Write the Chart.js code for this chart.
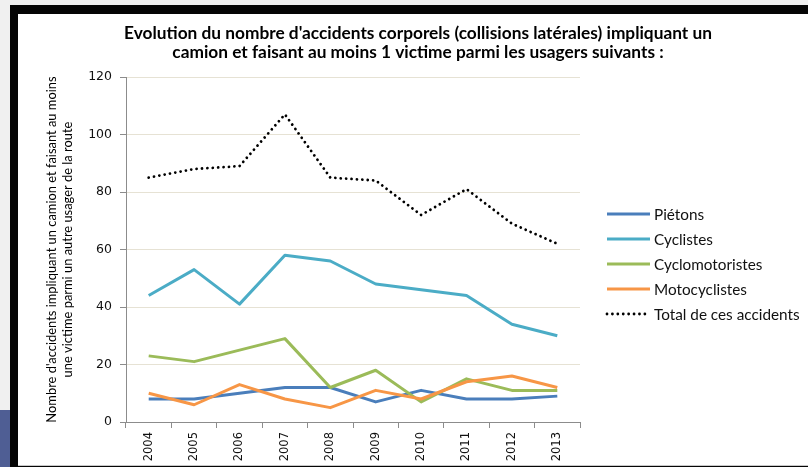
<!DOCTYPE html>
<html>
<head>
<meta charset="utf-8">
<script src="https://cdn.jsdelivr.net/npm/chart.js@4.4.1/dist/chart.umd.min.js"></script>
<style>
  html, body { margin: 0; padding: 0; }
  body { width: 808px; height: 467px; background: #f0f0f0; position: relative; overflow: hidden; }
  .blk { position: absolute; left: 10px; top: 5px; width: 798px; height: 462px; background: #050505; }
  .wht { position: absolute; left: 18px; top: 14px; width: 790px; height: 451px; background: #ffffff; }
  .ln { position: absolute; left: 18px; top: 465px; width: 790px; height: 1px; background: #c8c8c8; }
  .blue { position: absolute; left: 0; top: 410px; width: 10px; height: 57px; background: #4f5e94; }
  canvas { position: absolute; left: 0; top: 0; }
</style>
</head>
<body>
<div class="blk"></div>
<div class="wht"></div>
<div class="ln"></div>
<div class="blue"></div>
<canvas id="c" width="808" height="467"></canvas>
<script>
// ---- data ----
const years = ['2004','2005','2006','2007','2008','2009','2010','2011','2012','2013'];
const pietons = [8, 8, 10, 12, 12, 7, 11, 8, 8, 9];
const cyclistes = [44, 53, 41, 58, 56, 48, 46, 44, 34, 30];
const cyclomotoristes = [23, 21, 25, 29, 12, 18, 7, 15, 11, 11];
const motocyclistes = [10, 6, 13, 8, 5, 11, 8, 14, 16, 12];
const total = [85, 88, 89, 107, 85, 84, 72, 81, 69, 62];
const seriesNames = ['Piétons', 'Cyclistes', 'Cyclomotoristes', 'Motocyclistes', 'Total de ces accidents'];
const titleLines = ["Evolution du nombre d'accidents corporels (collisions latérales) impliquant un",
                    "camion et faisant au moins 1 victime parmi les usagers suivants :"];
const yTitleLines = ["Nombre d'accidents impliquant un camion et faisant au moins",
                     "une victime parmi un autre usager de la route"];

const colors = ['#4a7ebb', '#4bacc6', '#9bbb59', '#f79646', '#000000'];
const values = [pietons, cyclistes, cyclomotoristes, motocyclistes, total];

const datasets = values.map((v, i) => ({
  label: seriesNames[i],
  data: v,
  borderColor: colors[i],
  backgroundColor: colors[i],
  borderWidth: i === 4 ? 2.8 : 3,
  borderDash: i === 4 ? [0.01, 5.4] : [],
  borderCapStyle: i === 4 ? 'round' : 'butt',
  borderJoinStyle: 'round',
  pointRadius: 0,
  pointHoverRadius: 0,
  tension: 0,
  fill: false,
  order: 5 - i
}));

const titlePlugin = {
  id: 'customTitle',
  afterDraw(chart) {
    const ctx = chart.ctx;
    ctx.save();
    ctx.fillStyle = '#000000';
    ctx.font = 'bold 17.3px Lato';
    ctx.textAlign = 'center';
    ctx.textBaseline = 'middle';
    titleLines.forEach((t, i) => ctx.fillText(t, 418, 33 + i * 19.5));
    ctx.restore();
  }
};

const legendPlugin = {
  id: 'customLegend',
  afterDraw(chart) {
    const ctx = chart.ctx;
    const ca = chart.chartArea;
    const x0 = ca.right + 27;
    const y0 = 214;
    const step = 25;
    chart.data.datasets.forEach((ds, i) => {
      const y = y0 + i * step;
      ctx.save();
      ctx.strokeStyle = ds.borderColor;
      ctx.lineWidth = ds.borderWidth;
      ctx.lineCap = ds.borderCapStyle;
      ctx.setLineDash(ds.borderDash);
      ctx.beginPath();
      ctx.moveTo(x0, y);
      ctx.lineTo(x0 + 43, y);
      ctx.stroke();
      ctx.setLineDash([]);
      ctx.fillStyle = '#111111';
      ctx.font = '15.3px Lato';
      ctx.textAlign = 'left';
      ctx.textBaseline = 'middle';
      ctx.fillText(ds.label, x0 + 47, y + 1);
      ctx.restore();
    });
  }
};

new Chart(document.getElementById('c'), {
  type: 'line',
  data: { labels: years, datasets: datasets },
  plugins: [titlePlugin, legendPlugin],
  options: {
    responsive: false,
    animation: false,
    events: [],
    layout: { padding: { top: 77, left: 20, right: 228, bottom: 2 } },
    plugins: {
      legend: { display: false },
      tooltip: { enabled: false },
      title: { display: false }
    },
    scales: {
      x: {
        offset: true,
        grid: { display: true, drawOnChartArea: false, offset: true, tickLength: 6, tickColor: '#8c8c8c', color: '#8c8c8c' },
        border: { color: '#8c8c8c', width: 1 },
        ticks: { minRotation: 90, maxRotation: 90, padding: 4, color: '#111111', font: { family: 'DejaVu Sans', size: 11.5 } },
        afterFit(s) { s.height = 43; }
      },
      y: {
        min: 0, max: 120,
        ticks: { stepSize: 20, padding: 8, color: '#111111', font: { family: 'DejaVu Sans', size: 12.5 } },
        grid: {
          tickLength: 6,
          color: (c) => (c.tick && c.tick.value === 0) ? '#8c8c8c' : '#e6e2d4',
          tickColor: '#8c8c8c'
        },
        border: { color: '#8c8c8c', width: 1 },
        title: {
          display: true,
          text: yTitleLines,
          color: '#000000',
          font: { family: 'Lato', size: 12.9, lineHeight: 1.24 },
          padding: { top: 24, bottom: 0 }
        },
        afterFit(s) { s.width = 106; }
      }
    }
  }
});
</script>
</body>
</html>
